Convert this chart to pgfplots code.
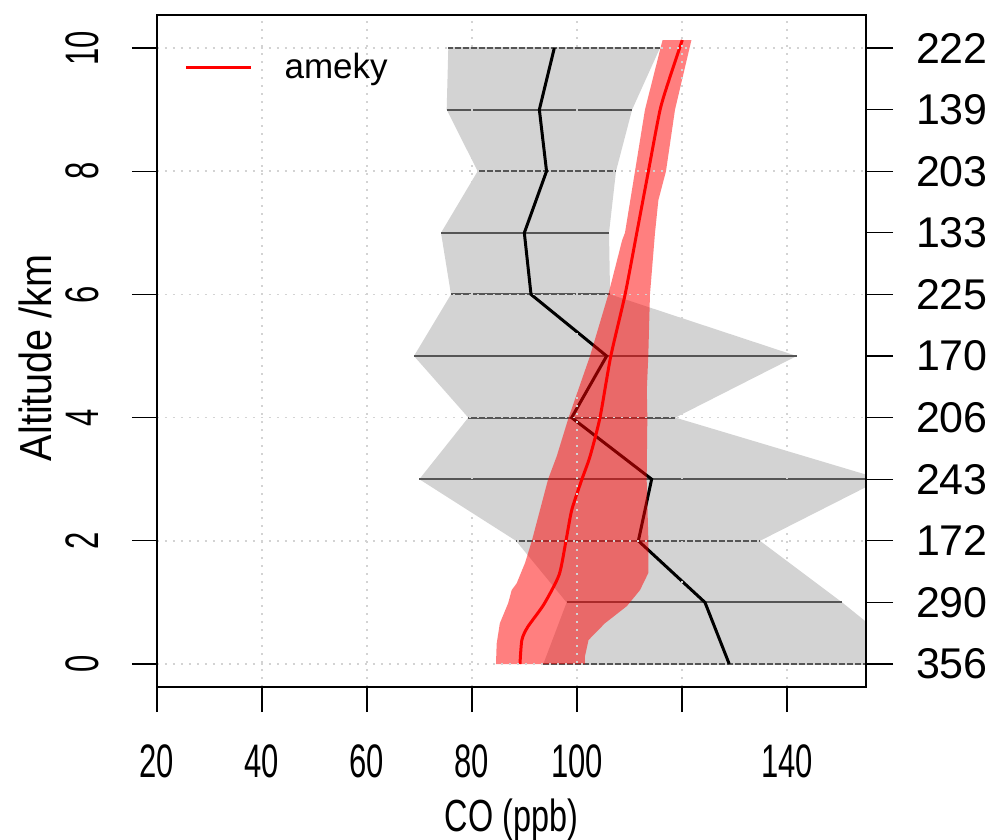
\documentclass[border=0pt]{standalone}
\usepackage{pgfplots}
\pgfplotsset{compat=1.18}
\usepackage{graphicx}
\usepackage{fontspec}
\setmainfont{Liberation Sans}
\definecolor{rgrey}{HTML}{D3D3D3}
\definecolor{seg}{HTML}{555555}
\definecolor{gridc}{HTML}{D3D3D3}
\newcommand\sx[1]{\scalebox{0.66}[1]{#1}}
\begin{document}
\begin{tikzpicture}
\useasboundingbox (-78.5bp,-76.5bp) rectangle (418bp,343.5bp);
\begin{axis}[
  width=354.5bp, height=336bp, scale only axis,
  xmin=20, xmax=155.05, ymin=-0.373, ymax=10.536,
  xtick={20,40,60,80,100,120,140},
  xticklabels={\sx{20},\sx{40},\sx{60},\sx{80},\sx{100},,\sx{140}},
  ytick={0,2,4,6,8,10},
  yticklabels={\sx{0},\sx{2},\sx{4},\sx{6},\sx{8},\sx{10}},
  xtick pos=bottom, ytick pos=left,
  tick align=outside, major tick length=12.5bp,
  tick style={black, line width=0.6bp},
  axis line style={line width=1bp},
  grid=major,
  major grid style={gridc, line width=0.8bp, dash pattern=on 1.2bp off 2.8bp},
  axis on top,
  tick label style={font=\fontsize{23.5bp}{27bp}\selectfont},
  xticklabel style={yshift=-13bp},
  yticklabel style={xshift=-13bp, rotate=90, anchor=south},
  xlabel={\scalebox{0.72}[1]{CO (ppb)}},
  ylabel={\scalebox{0.88}[1]{Altitude /km}},
  label style={font=\fontsize{22.5bp}{26bp}\selectfont},
  xlabel style={at={(axis description cs:0.5,-0.198)}, anchor=center},
  ylabel style={at={(axis description cs:-0.172,0.49)}, anchor=center},
  legend style={draw=none, fill=none, at={(axis description cs:0.03,0.955)}, anchor=north west,
    font=\fontsize{17.5bp}{20bp}\selectfont},
  legend image code/.code={\draw[#1] (0bp,0bp) -- (32.5bp,0bp);},
]
% observation range (grey)
\addplot[fill=rgrey, draw=none, forget plot] coordinates {
 (93.59,0) (98.03,1) (88.38,2) (69.97,3) (79.3,4) (68.95,5) (76.0,6) (74.1,7) (81.08,8) (75.18,9) (75.49,10)
 (115.8,10) (110.5,9) (107.43,8) (106.1,7) (106.3,6) (141.85,5) (118.73,4) (158,3) (134.86,2) (150.5,1) (165,0)
} -- cycle;
% range segments
\addplot[seg, line width=1bp, forget plot] coordinates {(93.59,0) (165,0)};
\addplot[seg, line width=1bp, forget plot] coordinates {(98.03,1) (150.5,1)};
\addplot[seg, line width=1bp, forget plot] coordinates {(88.38,2) (134.86,2)};
\addplot[seg, line width=1bp, forget plot] coordinates {(69.97,3) (158,3)};
\addplot[seg, line width=1bp, forget plot] coordinates {(79.3,4) (118.73,4)};
\addplot[seg, line width=1bp, forget plot] coordinates {(68.95,5) (141.85,5)};
\addplot[seg, line width=1bp, forget plot] coordinates {(76.0,6) (106.3,6)};
\addplot[seg, line width=1bp, forget plot] coordinates {(74.1,7) (106.1,7)};
\addplot[seg, line width=1bp, forget plot] coordinates {(81.08,8) (107.43,8)};
\addplot[seg, line width=1bp, forget plot] coordinates {(75.18,9) (110.5,9)};
\addplot[seg, line width=1bp, forget plot] coordinates {(75.49,10) (115.8,10)};
% observed mean
\addplot[black, line width=1.5bp, forget plot] coordinates {
 (129.0,0) (124.38,1) (111.69,2) (114.22,3) (98.98,4) (105.65,5) (91.24,6) (89.97,7) (94.2,8) (92.83,9) (95.68,10)
};
% model band
\addplot[fill=red, fill opacity=0.5, draw=none, forget plot] coordinates {
 (84.57,0) (84.7,0.33) (85.3,0.66) (86.9,0.99) (87.56,1.2) (88.51,1.31) (90.1,1.64) (91.4,2.0) (94.5,3.0) (96.13,3.37) (98.4,4.0) (102.48,5.0) (105.97,6.0) (108.6,6.88) (109.14,7.0) (111.05,8.0) (112.95,9.0) (116.3,10.13)
 (121.8,10.13) (118.67,9.0) (116.95,8.0) (115.5,7.53) (114.86,7.0) (113.9,6.0) (113.58,5.0) (113.3,4.45) (113.4,4.0) (113.27,3.0) (113.6,2.0) (113.6,1.48) (112.0,1.2) (109.5,0.94) (105.3,0.66) (102.2,0.39) (101.5,0.12) (101.5,0)
} -- cycle;
% model line
\addplot[red, line width=1.5bp, smooth, tension=0.4] coordinates {
 (89.14,0) (89.5,0.39) (90.6,0.6) (93.7,0.97) (96.6,1.45) (97.9,2.0) (99.0,2.5) (100.9,2.99) (102.48,3.37) (104.38,4.0) (106.42,4.99) (109.14,5.99) (111.37,6.99) (113.58,7.99) (115.81,8.99) (117.6,9.5) (120.06,10.13)
};
\addlegendentry{\hspace{14bp}ameky}
\end{axis}
\begin{axis}[
  width=354.5bp, height=336bp, scale only axis,
  xmin=20, xmax=155.05, ymin=-0.373, ymax=10.536,
  axis x line=none, axis y line*=right,
  ytick={0,1,2,3,4,5,6,7,8,9,10},
  yticklabels={356,290,172,243,206,170,225,133,203,139,222},
  tick align=outside, major tick length=13.5bp,
  tick style={black, line width=0.6bp},
  axis line style={line width=1bp},
  tick label style={font=\fontsize{21.5bp}{25bp}\selectfont},
  yticklabel style={anchor=west, xshift=8bp},
]
\end{axis}
\end{tikzpicture}
\end{document}
